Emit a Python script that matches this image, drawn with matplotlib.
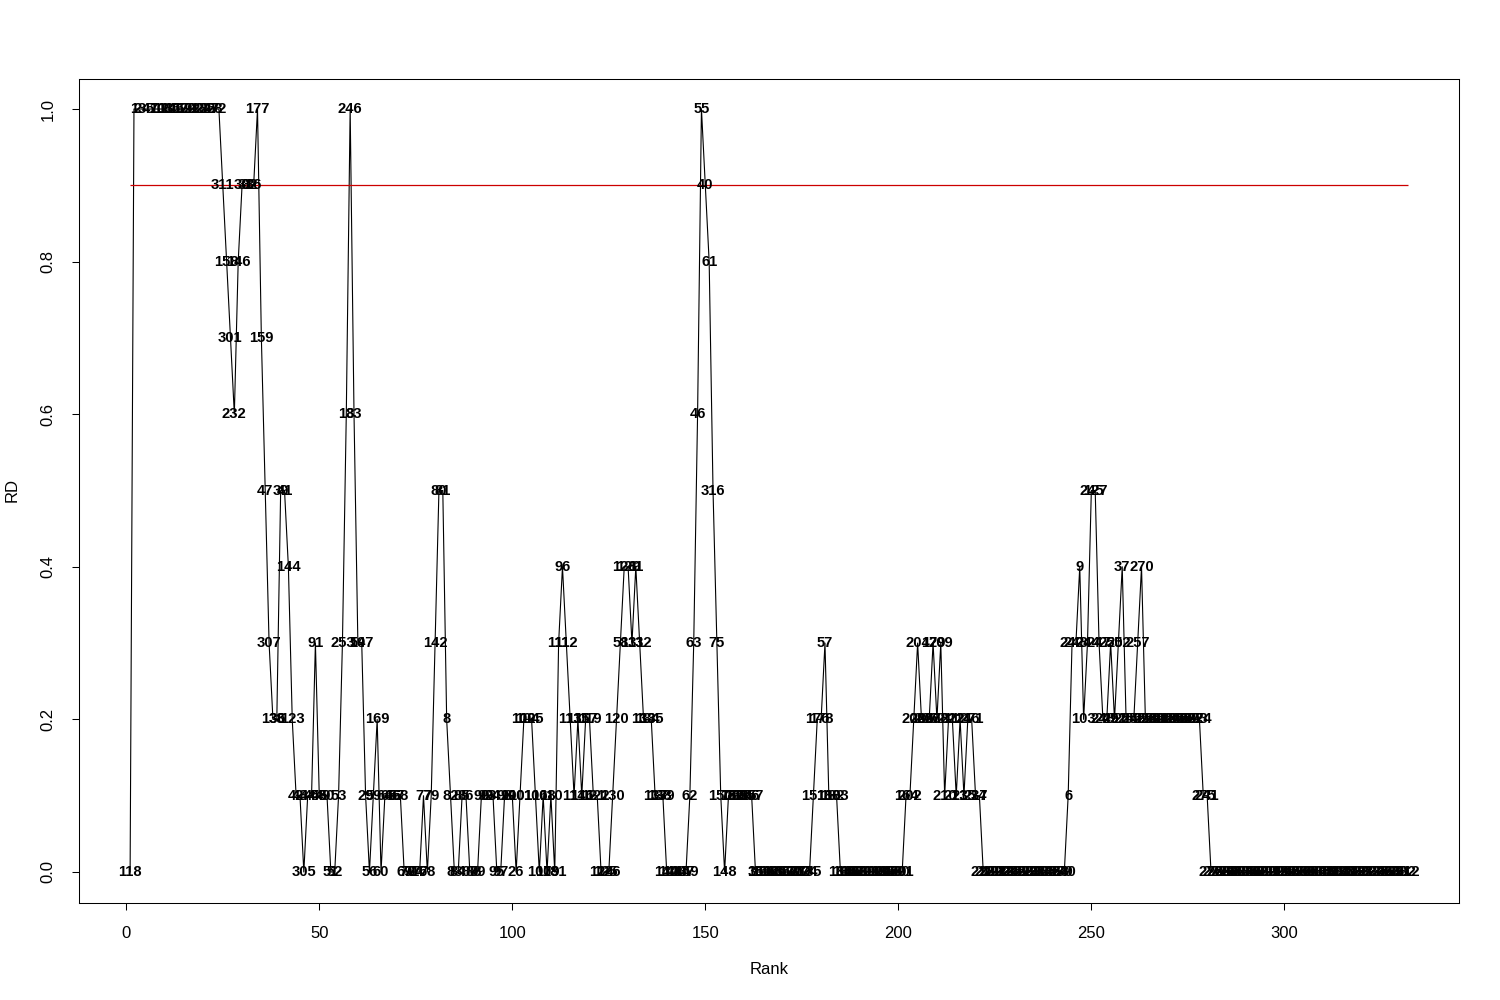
import matplotlib
matplotlib.use("Agg")
import matplotlib.pyplot as plt

plt.rcParams['font.family'] = ['Liberation Sans', 'DejaVu Sans']

# RD value for each rank (rank = position in list, starting at 1)
rd = ([0.0]
      + [1.0] * 23                                   # ranks 2-24
      + [0.9, 0.8, 0.7, 0.6, 0.8, 0.9, 0.9, 0.9, 0.9, 1.0]   # 25-34
      + [0.7, 0.5, 0.3, 0.2, 0.2, 0.5, 0.5, 0.4, 0.2, 0.1]   # 35-44
      + [0.1, 0.0, 0.1, 0.1, 0.3, 0.1, 0.1, 0.1, 0.0, 0.0]   # 45-54
      + [0.1, 0.3, 0.6, 1.0, 0.6, 0.3, 0.3, 0.1, 0.0, 0.1]   # 55-64
      + [0.2, 0.0, 0.1, 0.1, 0.1, 0.1, 0.1, 0.0, 0.0, 0.0]   # 65-74
      + [0.0, 0.0, 0.1, 0.0, 0.1, 0.3, 0.5, 0.5, 0.2, 0.1]   # 75-84
      + [0.0, 0.0, 0.1, 0.1, 0.0, 0.0, 0.0, 0.1, 0.1, 0.1]   # 85-94
      + [0.1, 0.0, 0.0, 0.1, 0.1, 0.1, 0.0, 0.1, 0.2, 0.2]   # 95-104
      + [0.2, 0.1, 0.0, 0.1, 0.0, 0.1, 0.0, 0.3, 0.4, 0.3]   # 105-114
      + [0.2, 0.1, 0.2, 0.1, 0.2, 0.2, 0.1, 0.1, 0.0, 0.0]   # 115-124
      + [0.0, 0.1, 0.2, 0.3, 0.4, 0.4, 0.3, 0.4, 0.3, 0.2]   # 125-134
      + [0.2, 0.2, 0.1, 0.1, 0.1, 0.0, 0.0, 0.0, 0.0, 0.0]   # 135-144
      + [0.0, 0.1, 0.3, 0.6, 1.0, 0.9, 0.8, 0.5, 0.3, 0.1]   # 145-154
      + [0.0, 0.1, 0.1, 0.1, 0.1, 0.1, 0.1, 0.1, 0.0]        # 155-163
      + [0.0] * 14                                           # 164-177
      + [0.1, 0.2, 0.2, 0.3, 0.1, 0.1, 0.1, 0.0]             # 178-185
      + [0.0] * 16                                           # 186-201
      + [0.1, 0.1, 0.2, 0.3, 0.2, 0.2, 0.2, 0.3, 0.2, 0.3]   # 202-211
      + [0.1, 0.2, 0.2, 0.1, 0.2, 0.1, 0.2, 0.2, 0.1, 0.1]   # 212-221
      + [0.0] * 22                                           # 222-243
      + [0.1, 0.3, 0.3, 0.4, 0.2, 0.3, 0.5, 0.5, 0.3, 0.2]   # 244-253
      + [0.2, 0.3, 0.2, 0.3, 0.4, 0.2, 0.2, 0.2, 0.3, 0.4]   # 254-263
      + [0.2] * 15                                           # 264-278
      + [0.1, 0.1]                                           # 279-280
      + [0.0] * 52)                                          # 281-332

n = len(rd)
ranks = list(range(1, n + 1))

# point labels that can be read on the chart (rank -> id)
known_ids = {1: 118, 24: 72, 25: 311, 26: 158, 27: 301, 28: 232, 29: 146,
             34: 177, 35: 159, 36: 47, 37: 307, 38: 136, 42: 144, 43: 123,
             46: 305, 49: 91, 56: 253, 57: 18, 58: 246, 59: 33, 61: 197,
             62: 29, 65: 169, 80: 142, 83: 8, 101: 26, 111: 181, 113: 96,
             126: 130, 127: 120, 128: 58, 132: 11, 146: 62, 147: 63,
             148: 46, 149: 55, 150: 40, 151: 61, 152: 316, 153: 75,
             155: 148, 156: 73, 163: 35, 178: 151, 181: 57, 202: 164,
             209: 179, 219: 271, 221: 34, 244: 6, 247: 9, 248: 103,
             251: 127, 258: 37, 263: 270, 280: 241, 332: 312}

# unreadable labels take the unused ids in order
free_ids = [i for i in range(1, n + 1) if i not in known_ids.values()]
labels = []
for r in ranks:
    if r in known_ids:
        labels.append(known_ids[r])
    else:
        labels.append(free_ids.pop(0))

fig = plt.figure(figsize=(15, 10), dpi=100)
ax = fig.add_axes([79 / 1500, 1 - 902.5 / 1000, 1380 / 1500, 824 / 1000])

ax.plot(ranks, rd, color='black', lw=0.8)
ax.hlines(0.9, 1, n, colors='#cc0000', lw=0.9)

for r, v, lab in zip(ranks, rd, labels):
    ax.text(r, v, str(lab), ha='center', va='center', fontsize=10.6,
            fontweight='bold')

ax.set_xlim(1 - 0.04 * (n - 1), n + 0.04 * (n - 1))
ax.set_ylim(-0.04, 1.04)

ax.set_xticks([0, 50, 100, 150, 200, 250, 300])
ax.set_yticks([0.0, 0.2, 0.4, 0.6, 0.8, 1.0])
ax.set_yticklabels(['0.0', '0.2', '0.4', '0.6', '0.8', '1.0'], rotation=90,
                   va='center')
ax.tick_params(direction='out', length=5, width=0.75, labelsize=12, pad=12)
for s in ax.spines.values():
    s.set_linewidth(0.75)

fig.text(769 / 1500, 1 - 969 / 1000, 'Rank', ha='center', va='center',
         fontsize=12)
fig.text(12 / 1500, 1 - 490 / 1000, 'RD', ha='center', va='center',
         fontsize=12, rotation=90)

fig.savefig('out.png', dpi=100)
